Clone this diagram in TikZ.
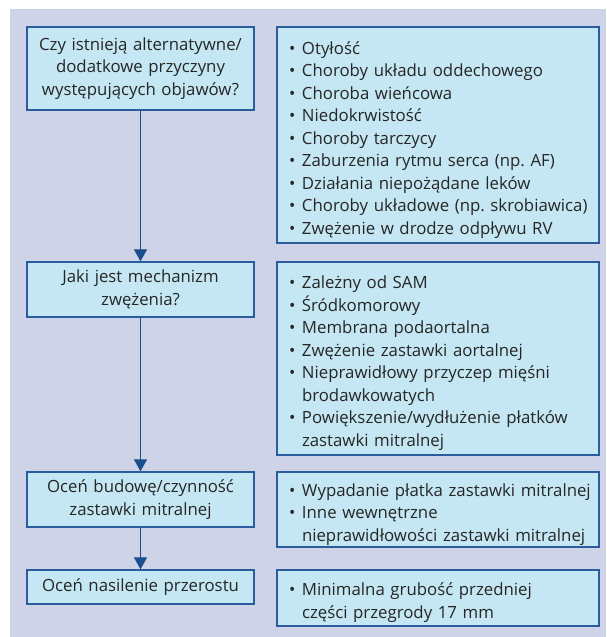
\documentclass[tikz,border=0pt]{standalone}
\usepackage{fontspec}
\setmainfont{Open Sans}
\usetikzlibrary{arrows.meta}
\definecolor{panel}{HTML}{CED3E7}
\definecolor{boxfill}{HTML}{C4E7F3}
\definecolor{edge}{HTML}{2B5C9E}
\definecolor{flowcol}{HTML}{1C4E8C}
% one bulleted entry, and the indented continuation of an entry
\newcommand{\bitem}[1]{\par\noindent\makebox[13pt][l]{\textbullet}#1}
\newcommand{\cont}{\\\hspace*{13pt}}
\begin{document}
\begin{tikzpicture}[x=1pt,y=-1pt,
  boxtext/.style={font=\fontsize{16.8}{22.5}\selectfont\frenchspacing, text=black!85},
  qbox/.style={boxtext, draw=edge, fill=boxfill, line width=1.3pt,
    text width=215pt, inner xsep=6pt, inner ysep=0pt, align=center},
  lbox/.style={boxtext, draw=edge, fill=boxfill, line width=1.3pt,
    text width=314pt, inner xsep=4pt, inner ysep=0pt, align=left,
    execute at begin node={\leftskip=8pt}},
  flow/.style={draw=flowcol, line width=1.2pt,
    -{Triangle[width=13pt,length=12pt]}}]
\useasboundingbox (0,0) rectangle (606,637);
\fill[panel] (10,9) rectangle (606,637);

% questions (left column)
\node[qbox, minimum height=83pt] (q1) at (140.5,68.5)
  {Czy istnieją alternatywne/\\dodatkowe przyczyny\\występujących objawów?};
\node[qbox, minimum height=55pt] (q2) at (140.5,289.5)
  {Jaki jest mechanizm\\zwężenia?};
\node[qbox, minimum height=55pt] (q3) at (140.5,499.5)
  {Oceń budowę/czynność\\zastawki mitralnej};
\node[qbox, minimum height=34pt] (q4) at (140.5,587)
  {Oceń nasilenie przerostu};

% lists (right column)
\node[lbox, minimum height=216pt] (l1) at (438,135) {%
  \bitem{Otyłość}
  \bitem{Choroby układu oddechowego}
  \bitem{Choroba wieńcowa}
  \bitem{Niedokrwistość}
  \bitem{Choroby tarczycy}
  \bitem{Zaburzenia rytmu serca (np. AF)}
  \bitem{Działania niepożądane leków}
  \bitem{Choroby układowe (np. skrobiawica)}
  \bitem{Zwężenie w drodze odpływu RV}};
\node[lbox, minimum height=193pt] (l2) at (438,358.5) {%
  \bitem{Zależny od SAM}
  \bitem{Śródkomorowy}
  \bitem{Membrana podaortalna}
  \bitem{Zwężenie zastawki aortalnej}
  \bitem{Nieprawidłowy przyczep mięśni\cont brodawkowatych}
  \bitem{Powiększenie/wydłużenie płatków\cont zastawki mitralnej}};
\node[lbox, minimum height=75pt] (l3) at (438,509.5) {%
  \bitem{Wypadanie płatka zastawki mitralnej}
  \bitem{Inne wewnętrzne\cont nieprawidłowości zastawki mitralnej}};
\node[lbox, minimum height=56pt] (l4) at (438,598) {%
  \bitem{Minimalna grubość przedniej\cont części przegrody 17 mm}};

% flow between the questions
\draw[flow] (q1) -- (q2);
\draw[flow] (q2) -- (q3);
\draw[flow] (q3) -- (q4);
\end{tikzpicture}
\end{document}
